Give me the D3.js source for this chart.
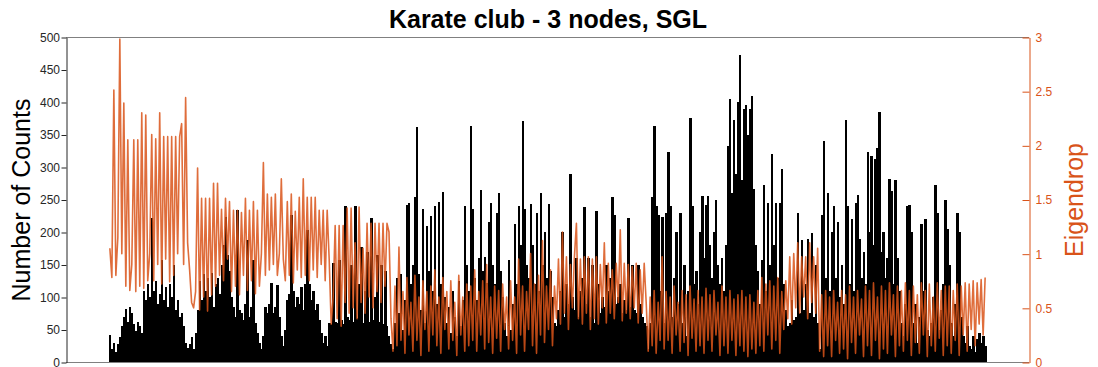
<!DOCTYPE html>
<html lang="en">
<head>
<meta charset="UTF-8">
<title>Karate club - 3 nodes, SGL</title>
<script src="https://cdn.jsdelivr.net/npm/d3@7"></script>
<style>
    body { margin: 0; background: #fff; }
    svg { display: block; font-family: "Liberation Sans", Arial, sans-serif; }
</style>
</head>
<body>
<div id="chart"></div>
<script>
// counts per subgraph (black bars) left to right
const counts = [
    42, 20, 30, 15, 28, 38, 55, 70, 82, 62, 85, 75, 58, 48, 62, 55, 45, 110, 95, 120,
    100, 222, 110, 125, 90, 105, 157, 95, 115, 85, 120, 100, 150, 80, 95, 70, 75, 55, 30, 22,
    28, 38, 20, 45, 80, 125, 95, 135, 110, 130, 100, 137, 85, 120, 130, 105, 150, 180, 223, 165,
    140, 100, 85, 70, 234, 80, 75, 65, 90, 188, 70, 85, 157, 60, 45, 30, 20, 40, 85, 75,
    90, 121, 75, 85, 118, 70, 40, 25, 50, 95, 105, 226, 110, 85, 100, 90, 115, 80, 120, 203,
    120, 95, 110, 80, 90, 65, 45, 30, 40, 25, 60, 58, 152, 62, 60, 157, 65, 58, 240, 70,
    65, 150, 62, 240, 68, 120, 177, 60, 110, 170, 62, 222, 65, 100, 165, 62, 150, 58, 140, 55,
    40, 28, 20, 60, 130, 75, 136, 50, 95, 242, 245, 120, 150, 254, 362, 135, 80, 236, 60, 210,
    140, 225, 110, 240, 90, 246, 120, 262, 100, 60, 85, 45, 110, 70, 40, 125, 55, 95, 240, 150,
    110, 363, 235, 130, 95, 160, 265, 140, 162, 121, 215, 244, 150, 120, 230, 260, 140, 100, 60, 40,
    157, 50, 90, 213, 120, 240, 180, 371, 235, 150, 130, 243, 180, 120, 230, 110, 260, 150, 200, 130,
    243, 140, 100, 60, 55, 80, 110, 200, 70, 120, 90, 290, 100, 80, 160, 70, 110, 130, 238, 90,
    160, 70, 150, 60, 232, 120, 75, 100, 85, 150, 110, 130, 254, 226, 90, 100, 120, 75, 95, 80,
    222, 85, 150, 80, 75, 150, 90, 70, 60, 55, 20, 60, 254, 363, 240, 226, 110, 223, 60, 230,
    323, 240, 70, 130, 200, 90, 230, 60, 150, 40, 110, 375, 240, 120, 140, 90, 200, 255, 160, 242,
    255, 180, 130, 200, 250, 150, 120, 160, 110, 180, 332, 405, 260, 373, 290, 400, 472, 280, 390, 395,
    350, 390, 410, 266, 180, 140, 90, 157, 272, 110, 244, 150, 320, 180, 244, 130, 244, 297, 120, 80,
    55, 60, 95, 65, 70, 230, 75, 188, 80, 120, 190, 75, 198, 70, 150, 60, 20, 226, 340, 130,
    260, 110, 200, 240, 130, 215, 100, 150, 90, 372, 240, 120, 220, 110, 245, 257, 190, 130, 170, 120,
    323, 200, 317, 180, 312, 329, 385, 170, 200, 130, 160, 282, 263, 120, 280, 160, 110, 60, 40, 90,
    240, 242, 200, 60, 90, 30, 70, 213, 110, 220, 50, 40, 60, 100, 272, 230, 50, 80, 120, 249,
    205, 150, 60, 40, 90, 229, 200, 70, 40, 30, 55, 25, 20, 40, 15, 35, 45, 30, 40, 25
]

// eigendrop per subgraph (orange line, right axis)
const eigendrop = [
    1.05, 0.78, 2.51, 0.80, 1.15, 2.98, 1.00, 2.39, 0.70, 2.05, 0.66, 0.90, 2.05, 0.65, 2.05, 0.70, 2.30, 0.68, 2.28, 0.75,
    1.00, 2.10, 0.75, 2.06, 0.90, 2.30, 0.72, 2.08, 0.95, 2.08, 0.74, 2.08, 0.80, 2.08, 1.00, 2.08, 2.20, 0.90, 2.44, 1.10,
    0.85, 0.55, 0.50, 0.65, 1.79, 0.48, 1.51, 0.60, 1.51, 0.47, 1.51, 0.62, 1.65, 0.70, 1.65, 0.80, 1.41, 0.75, 1.51, 0.95,
    1.48, 0.65, 1.40, 0.70, 1.40, 0.62, 1.38, 0.80, 1.51, 0.66, 1.40, 0.75, 1.48, 0.63, 1.40, 0.70, 1.00, 1.84, 0.80, 1.55,
    0.85, 1.52, 0.90, 1.55, 0.80, 1.00, 1.69, 0.95, 0.75, 1.48, 0.80, 1.55, 0.73, 1.39, 0.85, 1.52, 0.78, 1.69, 0.80, 1.52,
    0.75, 1.52, 0.85, 1.52, 0.78, 1.40, 0.90, 1.40, 0.75, 1.40, 0.95, 0.35, 0.60, 1.26, 0.40, 1.26, 0.33, 1.26, 0.55, 1.42,
    0.45, 1.42, 0.50, 1.10, 0.40, 1.43, 0.55, 1.05, 0.45, 1.28, 0.60, 1.28, 0.50, 1.28, 0.65, 1.28, 0.55, 1.28, 0.70, 1.28,
    1.20, 0.40, 0.10, 0.70, 0.15, 1.06, 0.20, 0.65, 0.08, 0.78, 0.25, 0.55, 0.10, 0.80, 0.20, 0.60, 0.06, 0.75, 0.30, 0.65,
    0.10, 0.70, 0.25, 0.85, 0.15, 0.60, 0.08, 0.78, 0.30, 0.65, 0.12, 0.75, 0.20, 0.55, 0.06, 0.80, 0.25, 0.60, 0.10, 0.72,
    0.15, 0.70, 0.20, 0.85, 0.10, 0.65, 0.25, 0.75, 0.12, 0.90, 0.18, 0.60, 0.08, 0.70, 0.22, 0.66, 0.10, 0.72, 0.30, 0.60,
    0.12, 0.75, 0.20, 0.60, 0.08, 0.95, 0.25, 0.70, 0.10, 0.65, 0.30, 1.00, 0.15, 0.72, 0.08, 0.80, 0.25, 1.12, 0.18, 0.70,
    0.30, 0.85, 0.15, 0.70, 0.40, 0.95, 0.35, 1.20, 0.45, 0.97, 0.30, 0.90, 0.50, 0.97, 1.28, 0.40, 0.95, 0.35, 0.97, 0.45,
    0.97, 0.30, 0.95, 0.40, 0.97, 0.35, 0.90, 0.50, 1.10, 0.36, 0.91, 0.45, 0.85, 0.40, 0.91, 0.55, 1.22, 0.38, 0.91, 0.45,
    0.90, 0.40, 0.88, 0.50, 0.91, 0.36, 0.85, 0.45, 0.91, 0.55, 0.10, 0.60, 0.15, 0.66, 0.08, 0.55, 0.20, 0.97, 0.12, 0.65,
    0.20, 0.60, 0.08, 0.70, 0.25, 0.55, 0.10, 0.66, 0.18, 0.62, 0.06, 0.70, 0.22, 0.58, 0.10, 0.66, 0.15, 0.60, 0.08, 0.68,
    0.20, 0.62, 0.10, 0.66, 0.25, 0.55, 0.06, 0.70, 0.15, 0.60, 0.08, 0.66, 0.20, 0.58, 0.06, 0.62, 0.15, 0.66, 0.10, 0.60,
    0.05, 0.62, 0.12, 0.55, 0.08, 0.66, 0.15, 0.78, 0.10, 0.72, 0.25, 0.75, 0.12, 0.70, 0.20, 0.78, 0.08, 0.65, 0.30, 0.75,
    0.40, 0.97, 0.35, 1.00, 0.50, 1.10, 0.45, 0.97, 0.60, 0.97, 0.40, 1.10, 0.55, 0.97, 0.45, 1.05, 0.10, 0.62, 0.05, 0.66,
    0.15, 0.60, 0.05, 0.66, 0.20, 0.55, 0.08, 0.66, 0.12, 0.62, 0.03, 0.70, 0.18, 0.60, 0.08, 0.66, 0.25, 0.58, 0.05, 0.70,
    0.15, 0.66, 0.06, 0.73, 0.20, 0.60, 0.03, 0.70, 0.12, 0.66, 0.08, 0.73, 0.25, 0.62, 0.05, 0.70, 0.15, 0.66, 0.10, 0.73,
    0.20, 0.66, 0.06, 0.70, 0.18, 0.62, 0.08, 0.73, 0.25, 0.66, 0.05, 0.72, 0.15, 0.60, 0.10, 0.73, 0.22, 0.66, 0.06, 0.70,
    0.15, 0.70, 0.08, 0.66, 0.20, 0.72, 0.06, 0.70, 0.25, 0.73, 0.10, 0.72, 0.30, 0.75, 0.15, 0.73, 0.35, 0.76, 0.25, 0.78
]

const countTicks = [0, 50, 100, 150, 200, 250, 300, 350, 400, 450, 500]
const eigTicks = [0, 0.5, 1, 1.5, 2, 2.5, 3]

const orange = '#D95319'
const axisGray = '#262626'

let w = 1098
let h = 367
let plotLeft = 66, plotRight = 1029, plotTop = 37, plotBottom = 362

let svg = d3.select('#chart').append('svg')
    .attr('width', w)
    .attr('height', h)

let xScale = d3.scaleLinear()
    .domain([-22, counts.length + 21])
    .range([plotLeft, plotRight])
let yLeft = d3.scaleLinear().domain([0, 500]).range([plotBottom, plotTop])
let yRight = d3.scaleLinear().domain([0, 3]).range([plotBottom, plotTop])
let step = xScale(1) - xScale(0)

// bars
svg.append('g')
    .attr('shape-rendering', 'crispEdges')
    .selectAll('rect')
    .data(counts)
    .enter()
    .append('rect')
    .attr('x', (d, i) => xScale(i - 0.5))
    .attr('y', d => yLeft(d))
    .attr('width', step + 0.5)
    .attr('height', d => yLeft(0) - yLeft(d))
    .attr('fill', '#000')

// eigendrop line on top
svg.append('path')
    .datum(eigendrop)
    .attr('d', d3.line().x((d, i) => xScale(i)).y(d => yRight(d)))
    .attr('fill', 'none')
    .attr('stroke', orange)
    .attr('stroke-width', 1.6)
    .attr('stroke-opacity', 0.85)
    .attr('stroke-linejoin', 'round')

// box
svg.append('line').attr('x1', plotLeft).attr('x2', plotRight).attr('y1', plotTop + 0.5).attr('y2', plotTop + 0.5)
    .attr('stroke', '#808080')
svg.append('line').attr('x1', plotLeft).attr('x2', plotRight).attr('y1', plotBottom + 0.5).attr('y2', plotBottom + 0.5)
    .attr('stroke', '#808080')

// left axis
let yAxisL = d3.axisLeft(yLeft).tickValues(countTicks).tickSizeInner(5).tickSizeOuter(0).tickPadding(1.5)
let gl = svg.append('g')
    .attr('transform', `translate(${plotLeft + 0.5}, 0.5)`)
    .call(yAxisL)
gl.select('.domain').attr('stroke', axisGray)
gl.selectAll('.tick line').attr('stroke', axisGray)
gl.selectAll('text').attr('fill', axisGray).attr('font-size', 12)
    .attr('font-family', '"Liberation Sans", Arial, sans-serif')

// right axis
let yAxisR = d3.axisRight(yRight).tickValues(eigTicks).tickFormat(d3.format('~g'))
    .tickSizeInner(-7).tickSizeOuter(0).tickPadding(6)
let gr = svg.append('g')
    .attr('transform', `translate(${plotRight + 0.5}, 0.5)`)
    .call(yAxisR)
gr.select('.domain').attr('stroke', orange)
gr.selectAll('.tick line').attr('stroke', orange)
gr.selectAll('text').attr('fill', orange).attr('font-size', 12)
    .attr('font-family', '"Liberation Sans", Arial, sans-serif')

// title and labels
svg.append('text')
    .attr('x', 548)
    .attr('y', 28)
    .attr('text-anchor', 'middle')
    .attr('font-size', 25)
    .attr('font-weight', 'bold')
    .attr('fill', '#000')
    .text('Karate club - 3 nodes, SGL')

svg.append('text')
    .attr('transform', 'translate(30, 200) rotate(-90)')
    .attr('text-anchor', 'middle')
    .attr('font-size', 25)
    .attr('fill', '#000')
    .text('Number of Counts')

svg.append('text')
    .attr('transform', 'translate(1083, 200) rotate(-90)')
    .attr('text-anchor', 'middle')
    .attr('font-size', 25)
    .attr('fill', orange)
    .text('Eigendrop')
</script>
</body>
</html>
